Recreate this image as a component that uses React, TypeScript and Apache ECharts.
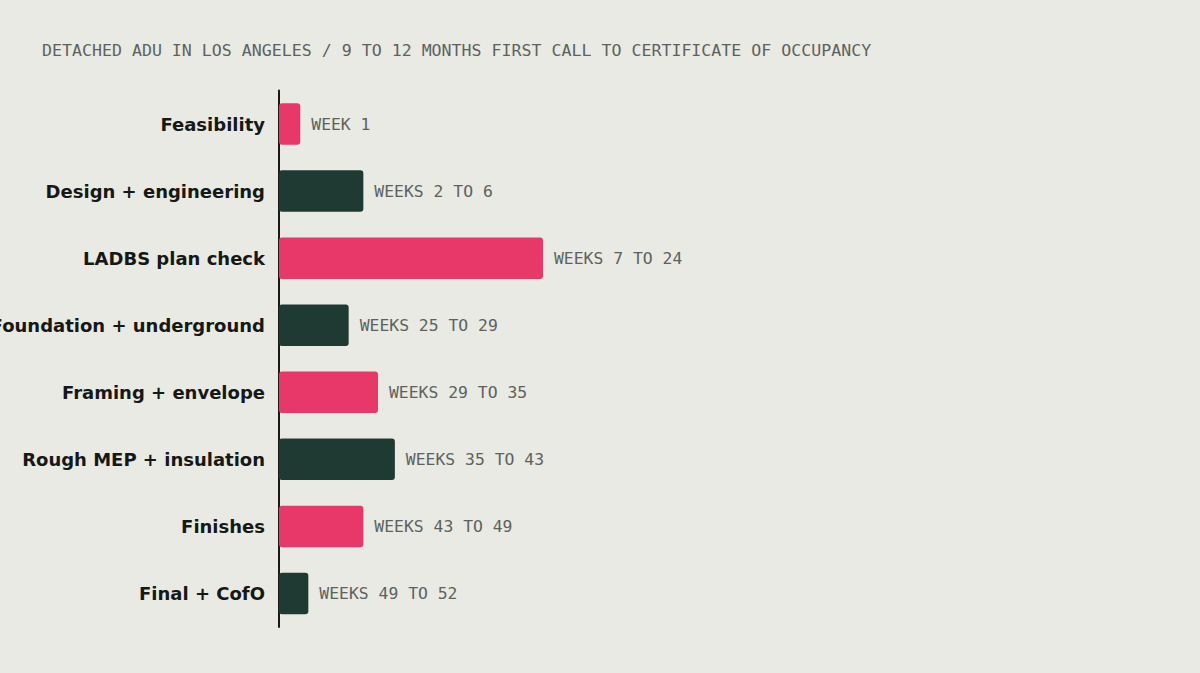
import React, { useEffect, useRef } from "react";
import * as echarts from "echarts";

const TITLE = "DETACHED ADU IN LOS ANGELES / 9 TO 12 MONTHS FIRST CALL TO CERTIFICATE OF OCCUPANCY";
const categories = [
  "Feasibility",
  "Design + engineering",
  "LADBS plan check",
  "Foundation + underground",
  "Framing + envelope",
  "Rough MEP + insulation",
  "Finishes",
  "Final + CofO",
];
// bar lengths (in weeks)
const durations = [1.45, 5.75, 18, 4.75, 6.75, 7.9, 5.75, 2.0];
const spanLabels = [
  "WEEK 1",
  "WEEKS 2 TO 6",
  "WEEKS 7 TO 24",
  "WEEKS 25 TO 29",
  "WEEKS 29 TO 35",
  "WEEKS 35 TO 43",
  "WEEKS 43 TO 49",
  "WEEKS 49 TO 52",
];
const colors = ["#E8386A", "#1F3A33"];

export default function App() {
  const ref = useRef<HTMLDivElement>(null);
  useEffect(() => {
    document.body.style.margin = "0";
    document.body.style.overflow = "hidden";
    document.body.style.background = "#E8EAE3";
    if (!ref.current) return;
    const chart = echarts.init(ref.current, null, { renderer: "svg" });
    chart.setOption({
      animation: false,
      backgroundColor: "#E8EAE3",
      title: {
        text: TITLE,
        left: 37,
        top: 37,
        textStyle: {
          fontFamily: "DejaVu Sans Mono",
          fontSize: 16.6,
          fontWeight: "normal",
          color: "#5E625E",
        },
      },
      grid: {
        left: 279,
        right: 41,
        top: 90.5,
        height: 536.5,
        containLabel: false,
        outerBoundsMode: "none",
      },
      xAxis: {
        type: "value",
        min: 0,
        max: 60,
        show: false,
      },
      yAxis: {
        type: "category",
        data: categories,
        inverse: true,
        axisLine: { show: true, lineStyle: { color: "#1a1a1a", width: 2 } },
        axisTick: { show: false },
        axisLabel: {
          margin: 14,
          fontFamily: "DejaVu Sans",
          fontWeight: "bold",
          fontSize: 18,
          color: "#161816",
        },
        splitLine: { show: false },
      },
      series: [
        {
          type: "bar",
          barWidth: 41.5,
          data: durations.map((v, i) => ({
            value: v,
            itemStyle: { color: colors[i % 2], borderRadius: 3 },
          })),
          label: {
            show: true,
            position: "right",
            distance: 11,
            fontFamily: "DejaVu Sans Mono",
            fontSize: 16.4,
            color: "#5E625E",
            formatter: (p: any) => spanLabels[p.dataIndex],
          },
        },
      ],
    });
    return () => chart.dispose();
  }, []);
  return (
    <div
      ref={ref}
      style={{ position: "fixed", left: 0, top: 0, width: 1200, height: 673 }}
    />
  );
}
